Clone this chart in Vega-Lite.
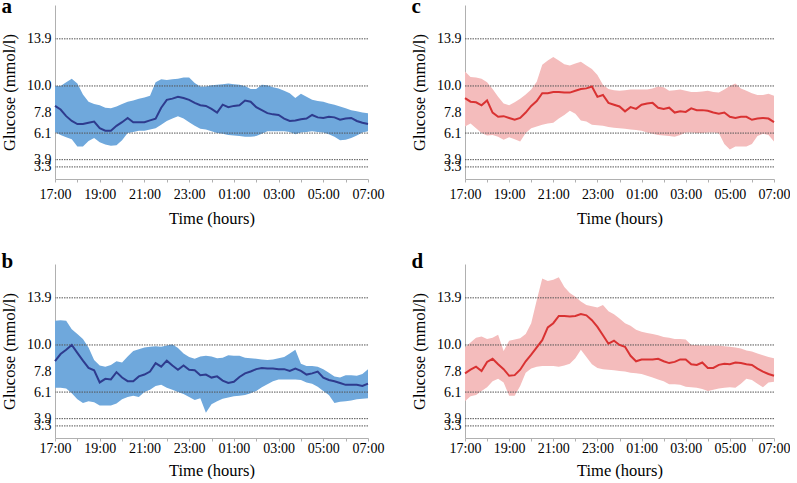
{
"$schema": "https://vega.github.io/schema/vega-lite/v6.json",
"padding": {"left": 1, "top": -4, "right": 0, "bottom": 0},
"background": "white",
"datasets": {
"refs": [{"g": 3.3}, {"g": 3.9}, {"g": 6.1}, {"g": 10.0}, {"g": 13.9}],
"a": [
{"t":0,"lo":6.2,"mean":8.35,"hi":10.0},{"t":0.25,"lo":5.95,"mean":8.05,"hi":10.0},{"t":0.5,"lo":5.75,"mean":7.5,"hi":10.3},{"t":0.75,"lo":5.6,"mean":7.1,"hi":10.6},
{"t":1,"lo":5.0,"mean":6.85,"hi":10.2},{"t":1.25,"lo":5.0,"mean":6.85,"hi":9.3},{"t":1.5,"lo":5.45,"mean":6.95,"hi":8.7},{"t":1.75,"lo":5.7,"mean":7.05,"hi":8.5},
{"t":2,"lo":5.35,"mean":6.5,"hi":8.4},{"t":2.25,"lo":5.15,"mean":6.3,"hi":8.2},{"t":2.5,"lo":5.05,"mean":6.3,"hi":8.15},{"t":2.75,"lo":5.1,"mean":6.7,"hi":8.3},
{"t":3,"lo":5.5,"mean":7.0,"hi":8.5},{"t":3.25,"lo":6.1,"mean":7.35,"hi":8.7},{"t":3.5,"lo":6.2,"mean":7.0,"hi":8.8},{"t":3.75,"lo":6.3,"mean":7.0,"hi":8.95},
{"t":4,"lo":6.3,"mean":7.0,"hi":9.05},{"t":4.25,"lo":6.4,"mean":7.15,"hi":9.2},{"t":4.5,"lo":6.5,"mean":7.3,"hi":10.3},{"t":4.75,"lo":6.8,"mean":8.2,"hi":10.55},
{"t":5,"lo":7.1,"mean":8.85,"hi":10.5},{"t":5.25,"lo":7.3,"mean":8.95,"hi":10.55},{"t":5.5,"lo":7.5,"mean":9.1,"hi":10.6},{"t":5.75,"lo":7.3,"mean":9.0,"hi":10.7},
{"t":6,"lo":7.0,"mean":8.85,"hi":10.7},{"t":6.25,"lo":6.7,"mean":8.6,"hi":10.25},{"t":6.5,"lo":6.45,"mean":8.4,"hi":9.95},{"t":6.75,"lo":6.4,"mean":8.35,"hi":9.95},
{"t":7,"lo":6.25,"mean":8.1,"hi":10.05},{"t":7.25,"lo":6.1,"mean":7.8,"hi":10.1},{"t":7.5,"lo":6.05,"mean":8.45,"hi":10.15},{"t":7.75,"lo":5.95,"mean":8.25,"hi":10.2},
{"t":8,"lo":5.9,"mean":8.35,"hi":10.15},{"t":8.25,"lo":5.85,"mean":8.4,"hi":10.1},{"t":8.5,"lo":5.8,"mean":8.8,"hi":10.0},{"t":8.75,"lo":5.8,"mean":8.7,"hi":9.75},
{"t":9,"lo":5.85,"mean":8.25,"hi":9.75},{"t":9.25,"lo":6.05,"mean":8.0,"hi":10.1},{"t":9.5,"lo":6.25,"mean":7.75,"hi":10.05},{"t":9.75,"lo":6.25,"mean":7.65,"hi":9.9},
{"t":10,"lo":6.25,"mean":7.6,"hi":9.8},{"t":10.25,"lo":6.25,"mean":7.3,"hi":9.6},{"t":10.5,"lo":6.2,"mean":7.1,"hi":9.4},{"t":10.75,"lo":6.0,"mean":7.15,"hi":9.0},
{"t":11,"lo":6.15,"mean":7.25,"hi":9.35},{"t":11.25,"lo":6.2,"mean":7.3,"hi":9.1},{"t":11.5,"lo":6.25,"mean":7.6,"hi":8.85},{"t":11.75,"lo":6.2,"mean":7.4,"hi":8.75},
{"t":12,"lo":6.15,"mean":7.35,"hi":8.7},{"t":12.25,"lo":6.0,"mean":7.45,"hi":8.55},{"t":12.5,"lo":5.8,"mean":7.4,"hi":8.45},{"t":12.75,"lo":5.5,"mean":7.2,"hi":8.3},
{"t":13,"lo":5.55,"mean":7.3,"hi":8.15},{"t":13.25,"lo":5.7,"mean":7.35,"hi":8.0},{"t":13.5,"lo":5.9,"mean":7.1,"hi":7.9},{"t":13.75,"lo":6.15,"mean":6.95,"hi":7.8},
{"t":14,"lo":6.25,"mean":6.85,"hi":7.75}],
"b": [
{"t":0,"lo":6.45,"mean":8.67,"hi":12.0},{"t":0.25,"lo":6.45,"mean":9.25,"hi":12.05},{"t":0.5,"lo":6.4,"mean":9.6,"hi":12.0},{"t":0.75,"lo":6.0,"mean":10.0,"hi":11.3},
{"t":1,"lo":5.5,"mean":9.35,"hi":10.9},{"t":1.25,"lo":5.2,"mean":8.7,"hi":10.5},{"t":1.5,"lo":5.35,"mean":8.1,"hi":9.8},{"t":1.75,"lo":5.25,"mean":7.9,"hi":8.75},
{"t":2,"lo":5.0,"mean":6.9,"hi":8.3},{"t":2.25,"lo":5.0,"mean":7.2,"hi":8.2},{"t":2.5,"lo":5.0,"mean":7.15,"hi":8.35},{"t":2.75,"lo":5.15,"mean":7.75,"hi":8.65},
{"t":3,"lo":5.5,"mean":7.3,"hi":8.55},{"t":3.25,"lo":5.7,"mean":7.0,"hi":9.05},{"t":3.5,"lo":5.8,"mean":7.0,"hi":9.5},{"t":3.75,"lo":5.7,"mean":7.4,"hi":9.65},
{"t":4,"lo":6.1,"mean":7.55,"hi":9.8},{"t":4.25,"lo":6.3,"mean":7.8,"hi":9.85},{"t":4.5,"lo":6.6,"mean":8.5,"hi":9.9},{"t":4.75,"lo":6.7,"mean":8.2,"hi":9.85},
{"t":5,"lo":6.45,"mean":8.7,"hi":9.95},{"t":5.25,"lo":6.3,"mean":8.3,"hi":10.05},{"t":5.5,"lo":6.1,"mean":7.95,"hi":9.75},{"t":5.75,"lo":5.95,"mean":8.3,"hi":9.3},
{"t":6,"lo":5.7,"mean":7.95,"hi":9.0},{"t":6.25,"lo":5.45,"mean":7.9,"hi":8.85},{"t":6.5,"lo":5.6,"mean":7.5,"hi":9.05},{"t":6.75,"lo":4.4,"mean":7.55,"hi":9.1},
{"t":7,"lo":5.1,"mean":7.3,"hi":9.05},{"t":7.25,"lo":5.35,"mean":7.4,"hi":8.9},{"t":7.5,"lo":5.55,"mean":7.05,"hi":8.95},{"t":7.75,"lo":5.65,"mean":6.85,"hi":9.15},
{"t":8,"lo":5.75,"mean":6.95,"hi":9.1},{"t":8.25,"lo":5.8,"mean":7.35,"hi":9.1},{"t":8.5,"lo":5.85,"mean":7.65,"hi":8.95},{"t":8.75,"lo":6.0,"mean":7.8,"hi":8.9},
{"t":9,"lo":6.2,"mean":8.0,"hi":8.85},{"t":9.25,"lo":6.5,"mean":8.1,"hi":8.8},{"t":9.5,"lo":6.75,"mean":8.05,"hi":8.75},{"t":9.75,"lo":7.0,"mean":8.05,"hi":8.8},
{"t":10,"lo":7.15,"mean":8.0,"hi":8.9},{"t":10.25,"lo":7.15,"mean":8.0,"hi":9.0},{"t":10.5,"lo":7.15,"mean":7.85,"hi":9.3},{"t":10.75,"lo":7.15,"mean":8.05,"hi":9.6},
{"t":11,"lo":7.1,"mean":7.85,"hi":8.45},{"t":11.25,"lo":6.9,"mean":7.55,"hi":8.25},{"t":11.5,"lo":6.8,"mean":7.65,"hi":8.25},{"t":11.75,"lo":6.55,"mean":7.8,"hi":8.2},
{"t":12,"lo":6.2,"mean":7.3,"hi":8.0},{"t":12.25,"lo":5.85,"mean":7.1,"hi":7.7},{"t":12.5,"lo":5.2,"mean":7.0,"hi":7.4},{"t":12.75,"lo":5.3,"mean":6.85,"hi":7.3},
{"t":13,"lo":5.35,"mean":6.7,"hi":7.5},{"t":13.25,"lo":5.4,"mean":6.7,"hi":7.5},{"t":13.5,"lo":5.5,"mean":6.7,"hi":7.45},{"t":13.75,"lo":5.55,"mean":6.6,"hi":7.6},
{"t":14,"lo":5.6,"mean":6.8,"hi":8.0}],
"c": [
{"t":0,"lo":6.65,"mean":9.0,"hi":11.2},{"t":0.25,"lo":6.9,"mean":8.7,"hi":10.75},{"t":0.5,"lo":6.5,"mean":8.65,"hi":10.7},{"t":0.75,"lo":6.1,"mean":8.4,"hi":10.6},
{"t":1,"lo":5.9,"mean":8.8,"hi":10.3},{"t":1.25,"lo":5.95,"mean":7.8,"hi":9.75},{"t":1.5,"lo":5.8,"mean":7.45,"hi":9.1},{"t":1.75,"lo":5.55,"mean":7.5,"hi":8.55},
{"t":2,"lo":5.75,"mean":7.35,"hi":8.4},{"t":2.25,"lo":5.6,"mean":7.2,"hi":8.65},{"t":2.5,"lo":5.4,"mean":7.35,"hi":8.95},{"t":2.75,"lo":6.1,"mean":7.8,"hi":9.3},
{"t":3,"lo":6.5,"mean":8.35,"hi":9.7},{"t":3.25,"lo":6.65,"mean":8.75,"hi":10.35},{"t":3.5,"lo":6.8,"mean":9.4,"hi":11.75},{"t":3.75,"lo":6.9,"mean":9.4,"hi":12.1},
{"t":4,"lo":6.95,"mean":9.5,"hi":12.4},{"t":4.25,"lo":7.3,"mean":9.5,"hi":12.1},{"t":4.5,"lo":7.6,"mean":9.45,"hi":11.8},{"t":4.75,"lo":7.95,"mean":9.45,"hi":11.7},
{"t":5,"lo":7.7,"mean":9.6,"hi":11.85},{"t":5.25,"lo":7.15,"mean":9.75,"hi":12.0},{"t":5.5,"lo":7.05,"mean":9.8,"hi":11.7},{"t":5.75,"lo":6.8,"mean":9.95,"hi":11.4},
{"t":6,"lo":6.75,"mean":9.1,"hi":10.9},{"t":6.25,"lo":6.7,"mean":9.25,"hi":10.1},{"t":6.5,"lo":6.6,"mean":8.6,"hi":9.75},{"t":6.75,"lo":6.55,"mean":8.45,"hi":9.65},
{"t":7,"lo":6.5,"mean":8.3,"hi":9.6},{"t":7.25,"lo":6.45,"mean":7.9,"hi":9.65},{"t":7.5,"lo":6.4,"mean":8.25,"hi":9.7},{"t":7.75,"lo":6.35,"mean":8.1,"hi":9.7},
{"t":8,"lo":6.3,"mean":8.45,"hi":9.7},{"t":8.25,"lo":6.15,"mean":8.55,"hi":9.7},{"t":8.5,"lo":6.05,"mean":8.6,"hi":9.8},{"t":8.75,"lo":5.95,"mean":8.2,"hi":9.95},
{"t":9,"lo":5.9,"mean":8.1,"hi":9.9},{"t":9.25,"lo":5.85,"mean":8.2,"hi":9.6},{"t":9.5,"lo":5.8,"mean":7.8,"hi":9.65},{"t":9.75,"lo":5.95,"mean":7.9,"hi":9.7},
{"t":10,"lo":6.15,"mean":7.85,"hi":9.6},{"t":10.25,"lo":6.15,"mean":8.15,"hi":9.5},{"t":10.5,"lo":6.1,"mean":8.0,"hi":9.5},{"t":10.75,"lo":6.1,"mean":8.0,"hi":9.55},
{"t":11,"lo":6.15,"mean":7.95,"hi":9.6},{"t":11.25,"lo":6.15,"mean":7.8,"hi":9.5},{"t":11.5,"lo":6.1,"mean":7.7,"hi":9.45},{"t":11.75,"lo":5.2,"mean":7.8,"hi":9.7},
{"t":12,"lo":4.75,"mean":7.45,"hi":10.0},{"t":12.25,"lo":5.0,"mean":7.35,"hi":10.2},{"t":12.5,"lo":5.0,"mean":7.45,"hi":9.8},{"t":12.75,"lo":5.0,"mean":7.45,"hi":9.6},
{"t":13,"lo":5.2,"mean":7.2,"hi":9.4},{"t":13.25,"lo":5.85,"mean":7.3,"hi":9.25},{"t":13.5,"lo":6.05,"mean":7.35,"hi":9.25},{"t":13.75,"lo":5.95,"mean":7.3,"hi":9.35},
{"t":14,"lo":5.4,"mean":7.0,"hi":9.2}],
"d": [
{"t":0,"lo":5.35,"mean":7.65,"hi":9.8},{"t":0.25,"lo":5.75,"mean":7.95,"hi":10.2},{"t":0.5,"lo":5.85,"mean":8.2,"hi":10.6},{"t":0.75,"lo":6.2,"mean":7.85,"hi":10.7},
{"t":1,"lo":6.5,"mean":8.6,"hi":10.5},{"t":1.25,"lo":7.0,"mean":8.85,"hi":10.6},{"t":1.5,"lo":7.2,"mean":8.4,"hi":10.85},{"t":1.75,"lo":6.9,"mean":8.0,"hi":9.5},
{"t":2,"lo":5.8,"mean":7.45,"hi":10.35},{"t":2.25,"lo":5.8,"mean":7.5,"hi":10.45},{"t":2.5,"lo":6.6,"mean":7.95,"hi":10.55},{"t":2.75,"lo":7.7,"mean":8.65,"hi":10.9},
{"t":3,"lo":8.05,"mean":9.2,"hi":11.8},{"t":3.25,"lo":8.2,"mean":9.8,"hi":13.7},{"t":3.5,"lo":8.25,"mean":10.4,"hi":15.5},{"t":3.75,"lo":8.25,"mean":11.45,"hi":15.3},
{"t":4,"lo":8.25,"mean":11.8,"hi":15.4},{"t":4.25,"lo":8.2,"mean":12.4,"hi":15.6},{"t":4.5,"lo":8.3,"mean":12.4,"hi":14.8},{"t":4.75,"lo":8.45,"mean":12.35,"hi":14.3},
{"t":5,"lo":8.9,"mean":12.4,"hi":14.0},{"t":5.25,"lo":9.6,"mean":12.55,"hi":13.6},{"t":5.5,"lo":9.0,"mean":12.45,"hi":13.3},{"t":5.75,"lo":8.4,"mean":12.05,"hi":13.2},
{"t":6,"lo":8.1,"mean":11.5,"hi":13.1},{"t":6.25,"lo":8.0,"mean":10.8,"hi":13.3},{"t":6.5,"lo":7.95,"mean":10.1,"hi":12.8},{"t":6.75,"lo":7.9,"mean":10.35,"hi":12.55},
{"t":7,"lo":7.85,"mean":10.0,"hi":12.2},{"t":7.25,"lo":7.8,"mean":9.85,"hi":11.8},{"t":7.5,"lo":7.7,"mean":9.1,"hi":11.6},{"t":7.75,"lo":7.65,"mean":8.65,"hi":11.25},
{"t":8,"lo":7.6,"mean":8.8,"hi":11.1},{"t":8.25,"lo":7.45,"mean":8.8,"hi":11.0},{"t":8.5,"lo":7.3,"mean":8.8,"hi":10.9},{"t":8.75,"lo":7.15,"mean":8.85,"hi":10.8},
{"t":9,"lo":7.0,"mean":8.65,"hi":10.65},{"t":9.25,"lo":6.75,"mean":8.5,"hi":10.6},{"t":9.5,"lo":6.75,"mean":8.6,"hi":10.5},{"t":9.75,"lo":6.7,"mean":8.8,"hi":10.5},
{"t":10,"lo":6.55,"mean":8.8,"hi":10.45},{"t":10.25,"lo":6.5,"mean":8.4,"hi":10.0},{"t":10.5,"lo":6.45,"mean":8.35,"hi":10.0},{"t":10.75,"lo":6.35,"mean":8.55,"hi":9.95},
{"t":11,"lo":6.2,"mean":8.1,"hi":9.95},{"t":11.25,"lo":6.3,"mean":8.1,"hi":9.95},{"t":11.5,"lo":6.4,"mean":8.35,"hi":9.95},{"t":11.75,"lo":6.45,"mean":8.45,"hi":9.9},
{"t":12,"lo":6.5,"mean":8.4,"hi":9.85},{"t":12.25,"lo":6.45,"mean":8.55,"hi":9.8},{"t":12.5,"lo":6.8,"mean":8.5,"hi":9.7},{"t":12.75,"lo":7.2,"mean":8.4,"hi":9.55},
{"t":13,"lo":7.1,"mean":8.35,"hi":9.45},{"t":13.25,"lo":6.8,"mean":8.05,"hi":9.3},{"t":13.5,"lo":6.5,"mean":7.8,"hi":9.15},{"t":13.75,"lo":6.9,"mean":7.6,"hi":9.0},
{"t":14,"lo":6.95,"mean":7.45,"hi":8.9}]
},
"config": {
"view": {"stroke": null},
"font": "Liberation Serif",
"title": {"font": "Liberation Serif", "fontSize": 21, "fontWeight": "bold", "anchor": "start", "frame": "bounds", "baseline": "alphabetic", "color": "black"},
"axis": {"labelFont": "Liberation Serif", "titleFont": "Liberation Serif", "labelFontSize": 14, "titleFontSize": 16.5, "titleFontWeight": "normal", "labelColor": "black", "titleColor": "black", "grid": false, "domainColor": "#b0b0b0", "tickColor": "#b0b0b0"},
"axisX": {"labelExpr": "datum.value % 2 == 0 ? ((((datum.value + 17) % 24) < 10 ? '0' : '') + ((datum.value + 17) % 24) + ':00') : ''", "labelFlush": false, "labelOverlap": false, "tickSize": 3},
"axisY": {"format": ".1f", "ticks": false, "labelPadding": 4, "titlePadding": 9, "labelOverlap": false, "labelFlush": false}
},
"concat": [
{"width": 313, "height": 174, "title": {"text": "a", "offset": -12}, "layer": [
 {"data": {"name": "a"}, "mark": {"type": "area", "color": "#6fa8dc", "opacity": 1}, "encoding": {"x": {"field": "t", "type": "quantitative", "scale": {"domain": [0, 14], "nice": false, "zero": false}, "axis": {"values": [0,1,2,3,4,5,6,7,8,9,10,11,12,13,14], "labelOverlap": false, "labelPadding": 5, "titlePadding": 9}, "title": "Time (hours)"}, "y": {"field": "lo", "type": "quantitative", "scale": {"domain": [2.3, 16.7], "nice": false, "zero": false}, "axis": {"values": [3.3, 3.9, 6.1, 7.8, 10.0, 13.9], "labelOverlap": false}, "title": "Glucose (mmol/l)"}, "y2": {"field": "hi"}}},
 {"data": {"name": "refs"}, "mark": {"type": "rule", "color": "#555", "strokeWidth": 1, "strokeDash": [1.5, 1]}, "encoding": {"y": {"field": "g", "type": "quantitative", "axis": {"values": [3.3, 3.9, 6.1, 7.8, 10.0, 13.9], "labelOverlap": false}, "title": "Glucose (mmol/l)"}}},
 {"data": {"name": "a"}, "mark": {"type": "line", "color": "#2e3b8e", "strokeWidth": 2}, "encoding": {"x": {"field": "t", "type": "quantitative", "axis": {"values": [0,1,2,3,4,5,6,7,8,9,10,11,12,13,14], "labelOverlap": false, "labelPadding": 5, "titlePadding": 9}, "title": "Time (hours)"}, "y": {"field": "mean", "type": "quantitative", "axis": {"values": [3.3, 3.9, 6.1, 7.8, 10.0, 13.9], "labelOverlap": false}, "title": "Glucose (mmol/l)"}}}
]},
{"width": 309, "height": 174, "title": {"text": "c", "offset": -12}, "layer": [
 {"data": {"name": "c"}, "mark": {"type": "area", "color": "#f4bcbc", "opacity": 1}, "encoding": {"x": {"field": "t", "type": "quantitative", "scale": {"domain": [0, 14], "nice": false, "zero": false}, "axis": {"values": [0,1,2,3,4,5,6,7,8,9,10,11,12,13,14], "labelOverlap": false, "labelPadding": 5, "titlePadding": 9}, "title": "Time (hours)"}, "y": {"field": "lo", "type": "quantitative", "scale": {"domain": [2.3, 16.7], "nice": false, "zero": false}, "axis": {"values": [3.3, 3.9, 6.1, 7.8, 10.0, 13.9], "labelOverlap": false}, "title": "Glucose (mmol/l)"}, "y2": {"field": "hi"}}},
 {"data": {"name": "refs"}, "mark": {"type": "rule", "color": "#555", "strokeWidth": 1, "strokeDash": [1.5, 1]}, "encoding": {"y": {"field": "g", "type": "quantitative", "axis": {"values": [3.3, 3.9, 6.1, 7.8, 10.0, 13.9], "labelOverlap": false}, "title": "Glucose (mmol/l)"}}},
 {"data": {"name": "c"}, "mark": {"type": "line", "color": "#d93232", "strokeWidth": 2}, "encoding": {"x": {"field": "t", "type": "quantitative", "axis": {"values": [0,1,2,3,4,5,6,7,8,9,10,11,12,13,14], "labelOverlap": false, "labelPadding": 5, "titlePadding": 9}, "title": "Time (hours)"}, "y": {"field": "mean", "type": "quantitative", "axis": {"values": [3.3, 3.9, 6.1, 7.8, 10.0, 13.9], "labelOverlap": false}, "title": "Glucose (mmol/l)"}}}
]},
{"width": 313, "height": 174, "title": {"text": "b", "offset": -8}, "layer": [
 {"data": {"name": "b"}, "mark": {"type": "area", "color": "#6fa8dc", "opacity": 1}, "encoding": {"x": {"field": "t", "type": "quantitative", "scale": {"domain": [0, 14], "nice": false, "zero": false}, "axis": {"values": [0,1,2,3,4,5,6,7,8,9,10,11,12,13,14], "labelOverlap": false, "labelPadding": 0, "titlePadding": 7.5}, "title": "Time (hours)"}, "y": {"field": "lo", "type": "quantitative", "scale": {"domain": [2.3, 16.7], "nice": false, "zero": false}, "axis": {"values": [3.3, 3.9, 6.1, 7.8, 10.0, 13.9], "labelOverlap": false}, "title": "Glucose (mmol/l)"}, "y2": {"field": "hi"}}},
 {"data": {"name": "refs"}, "mark": {"type": "rule", "color": "#555", "strokeWidth": 1, "strokeDash": [1.5, 1]}, "encoding": {"y": {"field": "g", "type": "quantitative", "axis": {"values": [3.3, 3.9, 6.1, 7.8, 10.0, 13.9], "labelOverlap": false}, "title": "Glucose (mmol/l)"}}},
 {"data": {"name": "b"}, "mark": {"type": "line", "color": "#2e3b8e", "strokeWidth": 2}, "encoding": {"x": {"field": "t", "type": "quantitative", "axis": {"values": [0,1,2,3,4,5,6,7,8,9,10,11,12,13,14], "labelOverlap": false, "labelPadding": 0, "titlePadding": 7.5}, "title": "Time (hours)"}, "y": {"field": "mean", "type": "quantitative", "axis": {"values": [3.3, 3.9, 6.1, 7.8, 10.0, 13.9], "labelOverlap": false}, "title": "Glucose (mmol/l)"}}}
]},
{"width": 309, "height": 174, "title": {"text": "d", "offset": -8}, "layer": [
 {"data": {"name": "d"}, "mark": {"type": "area", "color": "#f4bcbc", "opacity": 1}, "encoding": {"x": {"field": "t", "type": "quantitative", "scale": {"domain": [0, 14], "nice": false, "zero": false}, "axis": {"values": [0,1,2,3,4,5,6,7,8,9,10,11,12,13,14], "labelOverlap": false, "labelPadding": 0, "titlePadding": 7.5}, "title": "Time (hours)"}, "y": {"field": "lo", "type": "quantitative", "scale": {"domain": [2.3, 16.7], "nice": false, "zero": false}, "axis": {"values": [3.3, 3.9, 6.1, 7.8, 10.0, 13.9], "labelOverlap": false}, "title": "Glucose (mmol/l)"}, "y2": {"field": "hi"}}},
 {"data": {"name": "refs"}, "mark": {"type": "rule", "color": "#555", "strokeWidth": 1, "strokeDash": [1.5, 1]}, "encoding": {"y": {"field": "g", "type": "quantitative", "axis": {"values": [3.3, 3.9, 6.1, 7.8, 10.0, 13.9], "labelOverlap": false}, "title": "Glucose (mmol/l)"}}},
 {"data": {"name": "d"}, "mark": {"type": "line", "color": "#d93232", "strokeWidth": 2}, "encoding": {"x": {"field": "t", "type": "quantitative", "axis": {"values": [0,1,2,3,4,5,6,7,8,9,10,11,12,13,14], "labelOverlap": false, "labelPadding": 0, "titlePadding": 7.5}, "title": "Time (hours)"}, "y": {"field": "mean", "type": "quantitative", "axis": {"values": [3.3, 3.9, 6.1, 7.8, 10.0, 13.9], "labelOverlap": false}, "title": "Glucose (mmol/l)"}}}
]}
],
"columns": 2,
"spacing": {"column": 27, "row": 24}
}
